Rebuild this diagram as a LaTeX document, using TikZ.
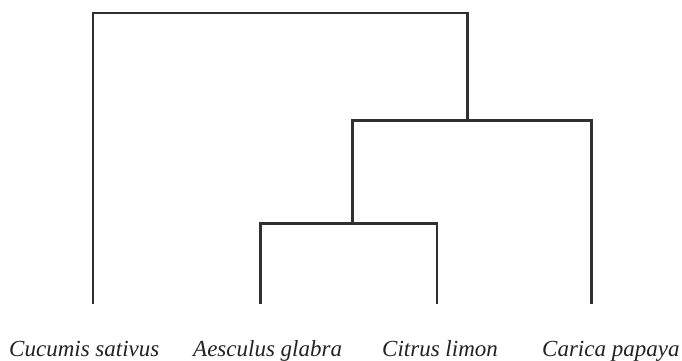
\documentclass[tikz,border=0pt]{standalone}
\usepackage{fontspec}
\setmainfont{Liberation Serif}
\definecolor{branch}{HTML}{303030}
\definecolor{taxon}{HTML}{222222}
\tikzset{
  clade/.style={draw=branch, line width=2.2pt, line join=miter, line cap=rect},
  species/.style={anchor=base west, inner sep=0pt, text=taxon,
    font=\fontsize{23}{28}\selectfont\itshape}
}
\begin{document}
\begin{tikzpicture}[x=1pt, y=-1pt]
  \useasboundingbox (0,0) rectangle (682,360);
  % leaf tips
  \coordinate (cs) at (93,303);
  \coordinate (ag) at (260.5,303);
  \coordinate (cl) at (437,303);
  \coordinate (cp) at (591.5,303);
  % internal nodes
  \coordinate (agcl) at (352.5,223.5);
  \coordinate (inner) at (467.5,120.5);
  \coordinate (root) at (280,13);
  % branches
  \draw[clade] (ag) |- (agcl) -| (cl);
  \draw[clade] (agcl) |- (inner) -| (cp);
  \draw[clade] (cs) |- (root) -| (inner);
  % taxon names
  \node[species] (tcs) at (9,356) {Cucumis sativus};
  \node[species] (tag) at (193,356) {Aesculus glabra};
  \node[species] (tcl) at (382,356) {Citrus limon};
  \node[species] (tcp) at (542,356) {Carica papaya};
\end{tikzpicture}
\end{document}
